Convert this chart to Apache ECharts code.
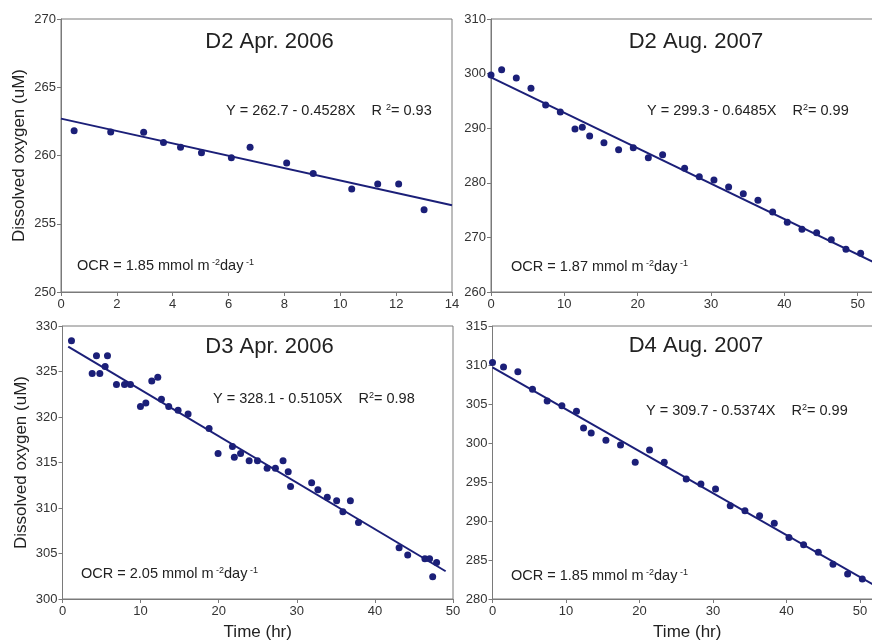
<!DOCTYPE html>
<html><head><meta charset="utf-8">
<script src="https://cdn.jsdelivr.net/npm/echarts@6/dist/echarts.min.js"></script>
<style>html,body{margin:0;padding:0;background:#fff}#c{width:872px;height:641px}</style>
</head><body><div id="c"></div>
<script>
// Panel 1: D2 Apr. 2006
const p1X = [0.47,1.78,2.96,3.67,4.28,5.03,6.10,6.77,8.08,9.03,10.41,11.34,12.09,13.0];
const p1Y = [261.82,261.72,261.70,260.96,260.60,260.21,259.84,260.60,259.45,258.69,257.55,257.91,257.91,256.03];
const p1LineX = [0, 14];
const p1LineY = [262.7, 256.36];
// Panel 2: D2 Aug. 2007
const p2X = [0,1.45,3.45,5.45,7.45,9.45,11.45,12.45,13.45,15.4,17.4,19.4,21.45,23.4,26.4,28.4,30.4,32.4,34.4,36.4,38.4,40.4,42.4,44.4,46.4,48.4,50.4];
const p2Y = [299.74,300.72,299.19,297.30,294.25,292.97,289.85,290.16,288.57,287.35,286.07,286.43,284.60,285.15,282.65,281.12,280.51,279.23,278.01,276.79,274.65,272.76,271.48,270.87,269.59,267.81,267.08];
const p2LineX = [0, 53];
const p2LineY = [299.3, 264.93];
// Panel 3: D3 Apr. 2006
const p3X = [1.15,3.8,4.35,4.78,5.46,5.76,6.91,7.94,8.70,9.98,10.67,11.43,12.2,12.67,13.6,14.8,16.08,18.77,19.92,21.76,22.0,22.8,23.9,24.96,26.2,27.26,28.24,28.9,29.2,31.9,32.7,33.9,35.1,35.9,36.86,37.9,43.1,44.2,46.4,47.0,47.4,47.9];
const p3Y = [328.39,324.77,326.74,324.77,325.54,326.74,323.56,323.56,323.56,321.15,321.55,323.96,324.37,321.95,321.15,320.74,320.34,318.73,315.99,316.75,315.58,315.99,315.18,315.18,314.38,314.38,315.18,313.97,312.36,312.77,312.0,311.19,310.79,309.58,310.79,308.41,305.63,304.83,304.42,304.42,302.45,304.02];
const p3LineX = [0.73, 49.06];
const p3LineY = [327.73, 303.05];
// Panel 4: D4 Aug. 2007
const p4X = [0,1.5,3.45,5.44,7.44,9.44,11.43,12.39,13.43,15.43,17.42,19.42,21.37,23.37,26.36,28.36,30.35,32.35,34.35,36.34,38.34,40.34,42.33,44.33,46.33,48.32,50.32];
const p4Y = [310.33,309.73,309.13,306.90,305.40,304.76,304.07,301.93,301.29,300.35,299.75,297.52,299.10,297.52,295.38,294.73,294.09,291.95,291.31,290.66,289.72,287.88,286.94,285.99,284.45,283.21,282.57];
const p4LineX = [0, 53];
const p4LineY = [309.7, 281.22];

const titles = ['D2 Apr. 2006','D2 Aug. 2007','D3 Apr. 2006','D4 Aug. 2007'];
const eqs = ['Y = 262.7 - 0.4528X','Y = 299.3 - 0.6485X','Y = 328.1 - 0.5105X','Y = 309.7 - 0.5374X'];
const r2Pre = ['R ','R','R','R'];
const r2 = ['= 0.93','= 0.99','= 0.98','= 0.99'];
const ocr = ['1.85','1.87','2.05','1.85'];
const yName = 'Dissolved oxygen (uM)';
const xName = 'Time (hr)';

const xRanges = [[0,14,2],[0,53,10],[0,50,10],[0,53,10]];
const yRanges = [[250,270,5],[260,310,10],[300,330,5],[280,315,5]];

const FONT = 'Liberation Sans, Arial, sans-serif';
const NAVY = '#1b1f78';
const AX = '#7a7a7a';

const grids = [
  {left:61, top:19, width:391, height:273},
  {left:491, top:19, width:388.7, height:273},
  {left:62.5, top:326, width:390.5, height:273},
  {left:492.5, top:326, width:389.5, height:273}
];

const pts = [[p1X,p1Y],[p2X,p2Y],[p3X,p3Y],[p4X,p4Y]];
const lines = [[p1LineX,p1LineY],[p2LineX,p2LineY],[p3LineX,p3LineY],[p4LineX,p4LineY]];

const xAxis = [], yAxis = [], series = [];
grids.forEach((g,i)=>{
  g.show = true; g.borderColor = AX; g.borderWidth = 1; g.backgroundColor='transparent';
  g.containLabel = false; g.outerBoundsMode = 'none';
  const xr = xRanges[i], yr = yRanges[i];
  xAxis.push({
    type:'value', gridIndex:i, min:xr[0], max:xr[1], interval:xr[2],
    axisLine:{show:true, lineStyle:{color:AX, width:1}},
    axisTick:{show:true, length:4, lineStyle:{color:AX}},
    splitLine:{show:false},
    axisLabel:{color:'#333', fontSize:13, fontFamily:FONT, margin:6,
      formatter: v => (v % xr[2] === 0 ? String(v) : '')},
    name: i>=2 ? xName : '', nameLocation:'middle', nameGap:25,
    nameTextStyle:{color:'#222', fontSize:17, fontFamily:FONT}
  });
  yAxis.push({
    type:'value', gridIndex:i, min:yr[0], max:yr[1], interval:yr[2],
    axisLine:{show:true, lineStyle:{color:AX, width:1}},
    axisTick:{show:true, length:4, lineStyle:{color:AX}},
    splitLine:{show:false},
    axisLabel:{color:'#333', fontSize:13, fontFamily:FONT, margin:5},
    name: (i%2===0) ? yName : '', nameLocation:'middle', nameGap:33, nameRotate:90,
    nameTextStyle:{color:'#222', fontSize:17, fontFamily:FONT}
  });
  series.push({
    type:'scatter', xAxisIndex:i, yAxisIndex:i, symbolSize:7, z:3,
    itemStyle:{color:NAVY, opacity:1}, silent:true,
    data: pts[i][0].map((x,k)=>[x, pts[i][1][k]])
  });
  series.push({
    type:'line', xAxisIndex:i, yAxisIndex:i, showSymbol:false, symbol:'none',
    lineStyle:{color:NAVY, width:2}, silent:true, z:2, clip:true,
    data: lines[i][0].map((x,k)=>[x, lines[i][1][k]])
  });
});

const titlePos = [[269.5,42],[696,42],[269.5,347],[696,346]];
const eqPos = [[226,111],[647,111],[213,399],[646,411]];
const ocrPos = [[77,266],[511,267],[81,574],[511,576]];

const graphic = [];
for (let i=0;i<4;i++){
  graphic.push({type:'text', x:titlePos[i][0], y:titlePos[i][1], silent:true,
    style:{text:titles[i], fill:'#222', font:'22px '+FONT, align:'center', verticalAlign:'middle'}});
  graphic.push({type:'text', x:eqPos[i][0], y:eqPos[i][1], silent:true,
    style:{text:'{a|'+eqs[i]+'    '+r2Pre[i]+'}{s|2}{a|'+r2[i]+'}', verticalAlign:'middle', align:'left',
      rich:{a:{fontSize:14.5, fontFamily:FONT, fill:'#222', lineHeight:16},
            s:{fontSize:9, fontFamily:FONT, fill:'#222', lineHeight:9, verticalAlign:'top'}}}});
  graphic.push({type:'text', x:ocrPos[i][0], y:ocrPos[i][1], silent:true,
    style:{text:'{a|OCR = '+ocr[i]+' mmol m}{s| -2}{a|day}{s| -1}', verticalAlign:'middle', align:'left',
      rich:{a:{fontSize:14.5, fontFamily:FONT, fill:'#222', lineHeight:16},
            s:{fontSize:9, fontFamily:FONT, fill:'#222', lineHeight:9, verticalAlign:'top'}}}});
}

const chart = echarts.init(document.getElementById('c'), null, {renderer:'canvas'});
chart.setOption({animation:false, backgroundColor:'#fff', grid:grids, xAxis, yAxis, series, graphic});
</script></body></html>
